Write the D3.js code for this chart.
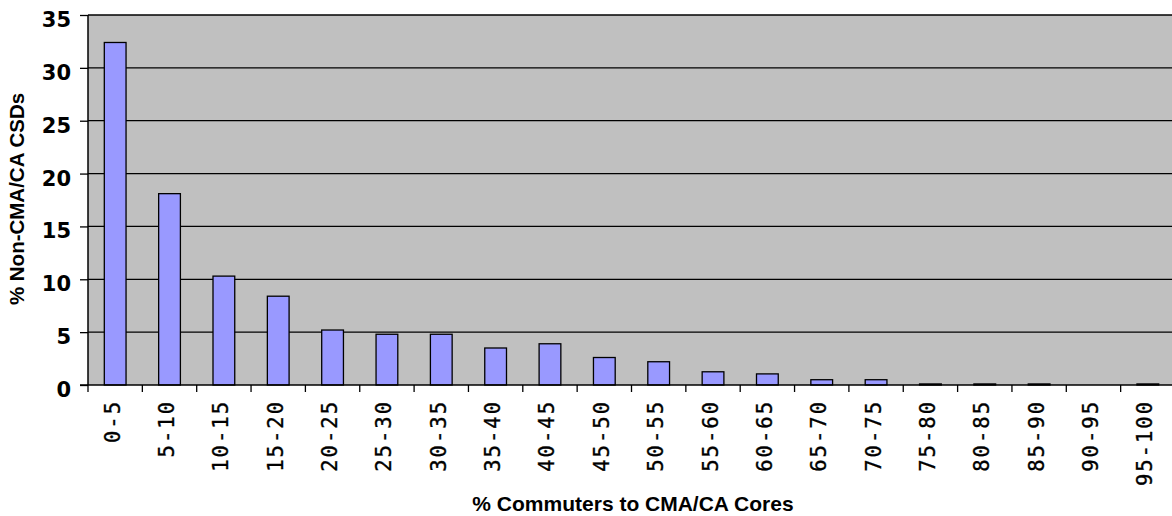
<!DOCTYPE html>
<html>
<head>
<meta charset="utf-8">
<script src="https://cdn.jsdelivr.net/npm/d3@7"></script>
<style>
  body { margin: 0; background: #fff; }
  svg { display: block; }
</style>
</head>
<body>
<div id="chart"></div>
<script>
// commuting share bins and % of non-CMA/CA CSDs in each
const categories = ["0-5", "5-10", "10-15", "15-20", "20-25", "25-30", "30-35", "35-40", "40-45", "45-50",
  "50-55", "55-60", "60-65", "65-70", "70-75", "75-80", "80-85", "85-90", "90-95", "95-100"]
const values = [32.4, 18.1, 10.3, 8.4, 5.2, 4.8, 4.8, 3.5, 3.9, 2.6,
  2.2, 1.25, 1.05, 0.5, 0.5, 0.1, 0.1, 0.1, 0, 0.1]
const yTicks = [0, 5, 10, 15, 20, 25, 30, 35]

const W = 1172, H = 516
const PLOT = { LEFT: 88, RIGHT: 1175, TOP: 15, BOTTOM: 385 }

const svg = d3.select("#chart").append("svg")
    .attr("width", W)
    .attr("height", H)

const x = d3.scaleBand()
    .domain(categories)
    .range([PLOT.LEFT, PLOT.RIGHT])
    .paddingInner(0.6)
    .paddingOuter(0.3)

const y = d3.scaleLinear()
    .domain([0, 35])
    .range([PLOT.BOTTOM, PLOT.TOP])

// grey plot area
svg.append("rect")
    .attr("x", PLOT.LEFT)
    .attr("y", PLOT.TOP)
    .attr("width", PLOT.RIGHT - PLOT.LEFT)
    .attr("height", PLOT.BOTTOM - PLOT.TOP)
    .attr("fill", "#c0c0c0")

// y axis with gridlines across the plot
const yAxis = svg.append("g")
    .attr("transform", `translate(${PLOT.LEFT},0)`)
    .call(d3.axisLeft(y).tickValues(yTicks).tickSize(8).tickPadding(9))
yAxis.select(".domain").remove()
yAxis.selectAll(".tick line").attr("stroke", "#000").attr("stroke-width", 1.3)
yAxis.selectAll(".tick text")
    .attr("font-family", "DejaVu Sans")
    .attr("font-weight", "bold")
    .attr("font-size", 21)
    .attr("fill", "#000")
    .attr("dy", "0.55em")

svg.append("g")
    .selectAll("line")
    .data(yTicks.filter(d => d > 0))
    .join("line")
        .attr("x1", PLOT.LEFT)
        .attr("x2", PLOT.RIGHT)
        .attr("y1", d => y(d))
        .attr("y2", d => y(d))
        .attr("stroke", "#000")
        .attr("stroke-width", 1.3)

// bars
svg.append("g")
    .selectAll("rect")
    .data(categories.map((c, i) => ({ c, v: values[i] })).filter(d => d.v > 0))
    .join("rect")
        .attr("x", d => x(d.c))
        .attr("y", d => y(d.v))
        .attr("width", x.bandwidth())
        .attr("height", d => y(0) - y(d.v))
        .attr("fill", "#9999ff")
        .attr("stroke", "#000")
        .attr("stroke-width", 1.3)

// axis lines
svg.append("line")
    .attr("x1", PLOT.LEFT).attr("x2", PLOT.LEFT)
    .attr("y1", PLOT.TOP).attr("y2", PLOT.BOTTOM)
    .attr("stroke", "#000").attr("stroke-width", 1.5)
svg.append("line")
    .attr("x1", PLOT.LEFT - 8).attr("x2", PLOT.RIGHT)
    .attr("y1", PLOT.BOTTOM).attr("y2", PLOT.BOTTOM)
    .attr("stroke", "#000").attr("stroke-width", 1.5)

// x ticks sit on the category boundaries
const offset = x.step() * x.paddingOuter()
svg.append("g")
    .selectAll("line")
    .data(categories)
    .join("line")
        .attr("x1", d => x(d) - offset)
        .attr("x2", d => x(d) - offset)
        .attr("y1", PLOT.BOTTOM)
        .attr("y2", PLOT.BOTTOM + 7)
        .attr("stroke", "#000")
        .attr("stroke-width", 1.3)

// rotated category labels
svg.append("g")
    .selectAll("text")
    .data(categories)
    .join("text")
        .attr("transform", d => `translate(${x(d) + x.bandwidth() / 2 + 4.5},400) rotate(-90)`)
        .attr("text-anchor", "end")
        .attr("font-family", "DejaVu Sans Mono")
        .attr("font-size", 20.5)
        .attr("letter-spacing", 2)
        .attr("stroke", "#000")
        .attr("stroke-width", 0.35)
        .attr("fill", "#000")
        .text(d => d)

// axis titles
svg.append("text")
    .attr("x", 633)
    .attr("y", 511)
    .attr("text-anchor", "middle")
    .attr("font-family", "Liberation Sans, Arial, sans-serif")
    .attr("font-weight", "bold")
    .attr("font-size", 21)
    .text("% Commuters to CMA/CA Cores")

svg.append("text")
    .attr("transform", "translate(24,199) rotate(-90)")
    .attr("text-anchor", "middle")
    .attr("font-family", "Liberation Sans, Arial, sans-serif")
    .attr("font-weight", "bold")
    .attr("font-size", 20.5)
    .text("% Non-CMA/CA CSDs")
</script>
</body>
</html>
